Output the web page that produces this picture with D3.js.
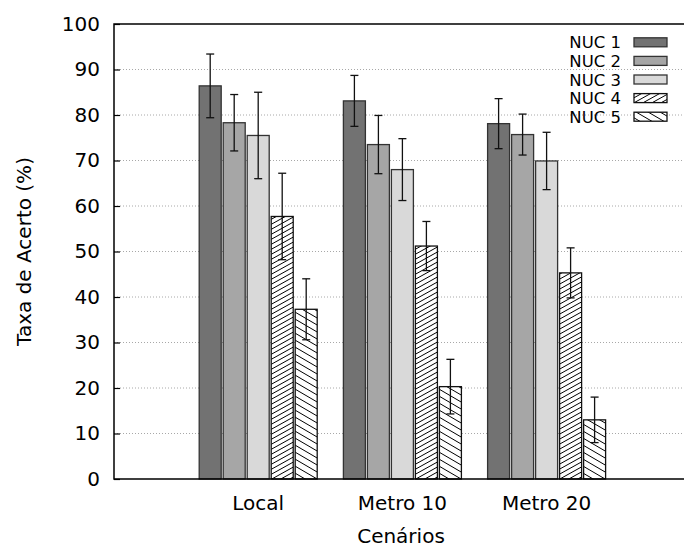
<!DOCTYPE html>
<html>
<head>
<meta charset="utf-8">
<script src="https://cdnjs.cloudflare.com/ajax/libs/d3/7.8.5/d3.min.js"></script>
<style>
  body { margin: 0; background: #fff; }
  svg { display: block; font-family: "DejaVu Sans", sans-serif; }
</style>
</head>
<body>
<svg id="chart" width="684" height="547"></svg>
<script>
// data
var cenarios = ["Local", "Metro 10", "Metro 20"];
var series = ["NUC 1", "NUC 2", "NUC 3", "NUC 4", "NUC 5"];
var nuc1 = [86.4, 83.1, 78.1];
var nuc2 = [78.3, 73.5, 75.7];
var nuc3 = [75.5, 68.0, 69.9];
var nuc4 = [57.7, 51.2, 45.3];
var nuc5 = [37.3, 20.3, 13.0];
var err1 = [7.0, 5.6, 5.5];
var err2 = [6.2, 6.4, 4.5];
var err3 = [9.5, 6.8, 6.3];
var err4 = [9.5, 5.4, 5.5];
var err5 = [6.7, 6.0, 5.0];
var yTicks = [0, 10, 20, 30, 40, 50, 60, 70, 80, 90, 100];

var values = [nuc1, nuc2, nuc3, nuc4, nuc5];
var errors = [err1, err2, err3, err4, err5];
var fills = ["#727272", "#a6a6a6", "#d9d9d9", "url(#hatch4)", "url(#hatch5)"];

var svg = d3.select("#chart");
var pLeft = 114, pTop = 24, pBottom = 479, pRight = 684;

var x = d3.scaleLinear().domain([-1, 3]).range([pLeft, pLeft + 4 * 144.2]);
var inner = d3.scaleBand().domain(series).range([-59, 59]).paddingInner(0.0833);
var y = d3.scaleLinear().domain([0, 100]).range([pBottom, pTop]);

// hatch patterns
var defs = svg.append("defs");
var p4 = defs.append("pattern").attr("id", "hatch4")
    .attr("patternUnits", "userSpaceOnUse").attr("width", 9).attr("height", 5);
p4.append("rect").attr("width", 9).attr("height", 5).attr("fill", "#fff");
p4.append("path").attr("d", "M-9,10L18,-5M-9,5L18,-10M-9,15L18,0")
    .attr("stroke", "#000").attr("stroke-width", 1).attr("fill", "none");
var p5 = defs.append("pattern").attr("id", "hatch5")
    .attr("patternUnits", "userSpaceOnUse").attr("width", 12).attr("height", 7);
p5.append("rect").attr("width", 12).attr("height", 7).attr("fill", "#fff");
p5.append("path").attr("d", "M-12,-7L24,14M-12,-14L24,7M-12,0L24,21")
    .attr("stroke", "#000").attr("stroke-width", 1).attr("fill", "none");

// grid
svg.append("g").selectAll("line")
  .data(yTicks.filter(function(d) { return d > 0 && d < 100; }))
  .enter().append("line")
    .attr("x1", pLeft).attr("x2", pRight)
    .attr("y1", function(d) { return y(d); })
    .attr("y2", function(d) { return y(d); })
    .attr("stroke", "#a8a8a8").attr("stroke-width", 1)
    .attr("stroke-dasharray", "1,2");

// bars
series.forEach(function(s, si) {
  var g = svg.append("g");
  g.selectAll("rect").data(values[si]).enter().append("rect")
    .attr("x", function(d, i) { return x(i) + inner(s); })
    .attr("width", inner.bandwidth())
    .attr("y", function(d) { return y(d); })
    .attr("height", function(d) { return pBottom - y(d); })
    .attr("fill", fills[si])
    .attr("stroke", si < 3 ? "#333" : "#111")
    .attr("stroke-width", 1.3);
});

// error bars
series.forEach(function(s, si) {
  var g = svg.append("g").attr("stroke", "#111").attr("stroke-width", 1.3);
  values[si].forEach(function(v, i) {
    var cx = x(i) + inner(s) + inner.bandwidth() / 2;
    var lo = v - errors[si][i], hi = v + errors[si][i];
    g.append("line").attr("x1", cx).attr("x2", cx).attr("y1", y(lo)).attr("y2", y(hi));
    g.append("line").attr("x1", cx - 4).attr("x2", cx + 4).attr("y1", y(lo)).attr("y2", y(lo));
    g.append("line").attr("x1", cx - 4).attr("x2", cx + 4).attr("y1", y(hi)).attr("y2", y(hi));
  });
});

// frame
svg.append("path")
  .attr("d", "M" + pRight + "," + pTop + "H" + pLeft + "V" + pBottom + "H" + pRight)
  .attr("fill", "none").attr("stroke", "#000").attr("stroke-width", 1.5);

// y axis (ticks point inward)
var yAxis = d3.axisLeft(y).tickValues(yTicks).tickSize(-6).tickPadding(14);
var ya = svg.append("g").attr("transform", "translate(" + pLeft + ",0)").call(yAxis);
ya.select(".domain").remove();
ya.selectAll(".tick line").attr("stroke", "#000").attr("stroke-width", 1.2);
ya.selectAll("text").attr("font-size", 20).attr("font-family", "DejaVu Sans").attr("fill", "#000");

// x labels
svg.append("g").selectAll("text").data(cenarios).enter().append("text")
  .attr("x", function(d, i) { return x(i); })
  .attr("y", 510)
  .attr("text-anchor", "middle")
  .attr("font-size", 20)
  .text(function(d) { return d; });

svg.append("text").attr("x", 401).attr("y", 543)
  .attr("text-anchor", "middle").attr("font-size", 20).text("Cenários");

svg.append("text")
  .attr("transform", "translate(31," + ((pTop + pBottom) / 2) + ") rotate(-90)")
  .attr("text-anchor", "middle").attr("font-size", 20).text("Taxa de Acerto (%)");

// legend
var leg = svg.append("g");
series.forEach(function(s, si) {
  var cy = 42.3 + 18.6 * si;
  leg.append("text").attr("x", 621).attr("y", cy + 6)
    .attr("text-anchor", "end").attr("font-size", 16.5).text(s);
  leg.append("rect").attr("x", 634).attr("y", cy - 4.5)
    .attr("width", 33).attr("height", 9)
    .attr("fill", fills[si]).attr("stroke", si < 3 ? "#333" : "#111").attr("stroke-width", 1.3);
});
</script>
</body>
</html>
